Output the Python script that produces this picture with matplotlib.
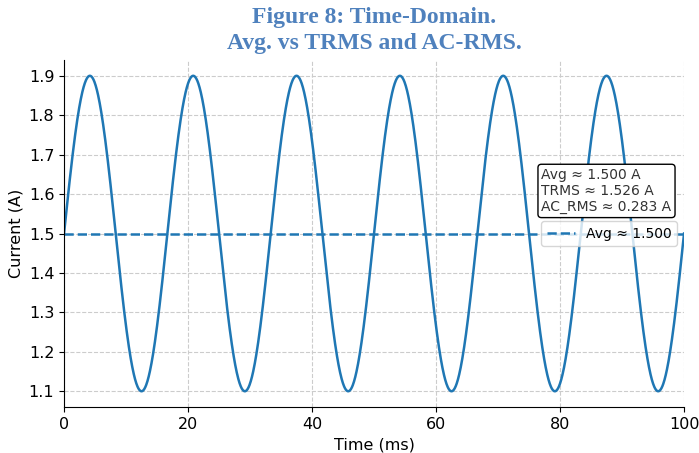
import numpy as np
import matplotlib.pyplot as plt

# signal parameters
avg_current = 1.5      # A
amplitude = 0.4        # A (peaks 1.9, troughs 1.1)
freq_hz = 60.0         # ~16.7 ms period
t_end_ms = 100
trms = 1.526
ac_rms = 0.283

t_ms = np.linspace(0, t_end_ms, 2000)
current = avg_current + amplitude * np.sin(2 * np.pi * freq_hz * t_ms / 1000.0)

fig = plt.figure(figsize=(6.99, 4.53), dpi=100)
ax = fig.add_axes([0.0916, 0.1015, 0.887, 0.766])

ax.plot(t_ms, current, color='#1f77b4', lw=1.8)
ax.axhline(avg_current, color='#1f77b4', ls='--', lw=1.8, label=f'Avg \u2248 {avg_current:.3f}')

ax.set_xlim(0, t_end_ms)
ax.set_ylim(1.06, 1.94)
ax.set_yticks(np.arange(1.1, 1.91, 0.1))
ax.grid(True, ls='--', color='#cccccc', lw=0.8)
ax.spines['top'].set_visible(False)
ax.spines['right'].set_visible(False)
ax.tick_params(labelsize=11.5)
ax.set_xlabel('Time (ms)', fontsize=11.5)
ax.set_ylabel('Current (A)', fontsize=11.5)

ax.text(0.77, 0.69, f'Avg \u2248 {avg_current:.3f} A\nTRMS \u2248 {trms:.3f} A\nAC_RMS \u2248 {ac_rms:.3f} A',
        transform=ax.transAxes, fontsize=10, va='top', ha='left', color='#333333',
        bbox=dict(boxstyle='round,pad=0.25', fc='white', ec='black', lw=1))
ax.legend(loc='center right', fontsize=10, framealpha=0.8)

fig.suptitle('Figure 8: Time-Domain.\nAvg. vs TRMS and AC-RMS.', x=0.535, y=0.985,
             fontsize=17, fontweight='bold', color='#4F81BD', family='Liberation Serif',
             linespacing=1.3)

fig.savefig('out.png', dpi=100)
